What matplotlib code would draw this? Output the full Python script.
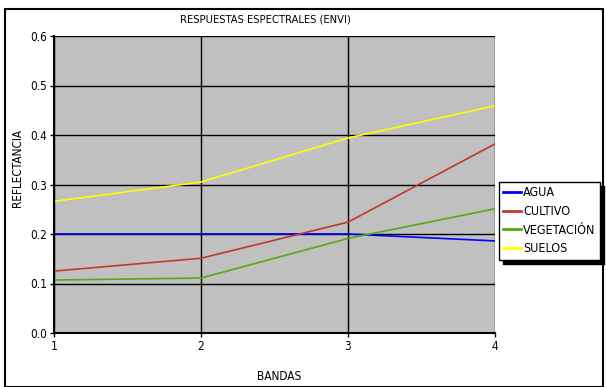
import matplotlib
matplotlib.use("Agg")
import matplotlib.pyplot as plt
from matplotlib.patches import Rectangle

bands = [1, 2, 3, 4]
agua = [0.200, 0.200, 0.200, 0.186]
cultivo = [0.125, 0.151, 0.224, 0.382]
vegetacion = [0.107, 0.111, 0.191, 0.251]
suelos = [0.266, 0.305, 0.394, 0.459]
names = ["AGUA", "CULTIVO", "VEGETACIÓN", "SUELOS"]
colors = ["#0000FF", "#C0392B", "#55AA11", "#FFFF00"]
yticks = [0.0, 0.1, 0.2, 0.3, 0.4, 0.5, 0.6]

plt.rcParams['font.family'] = ['DejaVu Sans']
plt.rcParams['font.stretch'] = 'condensed'
plt.rcParams['font.size'] = 8.5

W, H = 606, 387
fig = plt.figure(figsize=(W/100, H/100), dpi=100)
fig.patch.set_facecolor('white')
fig.patches.append(Rectangle((5/W, 0), (603-5)/W, 1-9/H, transform=fig.transFigure,
                             fill=False, edgecolor='black', linewidth=1.5))

ax = fig.add_axes([54/W, 1-333/H, (495-54)/W, (333-36)/H])
ax.set_facecolor('#C0C0C0')
series = [agua, cultivo, vegetacion, suelos]
for vals, name, c in zip(series, names, colors):
    ax.plot(bands, vals, color=c, linewidth=1.2, label=name)

ax.set_xlim(1, 4)
ax.set_ylim(0, 0.6)
ax.set_xticks(bands)
ax.set_yticks(yticks)
ax.set_yticklabels([f"{v:.1f}" for v in yticks])
ax.grid(True, color='black', linewidth=1)
ax.set_axisbelow(True)
for s in ['top', 'right']:
    ax.spines[s].set_visible(False)
for s in ['left', 'bottom']:
    ax.spines[s].set_linewidth(1.5)
ax.tick_params(direction='out', length=3, width=1, pad=2, labelsize=8.5)
fig.text(265/W, 1-20/H, "RESPUESTAS ESPECTRALES (ENVI)", ha='center', va='center', fontsize=8)
fig.text(279/W, 1-377/H, "BANDAS", ha='center', va='center', fontsize=8.5)
fig.text(18/W, 1-168/H, "REFLECTANCIA", ha='center', va='center', rotation=90, fontsize=8.5)

leg = fig.legend(loc='upper left', bbox_to_anchor=(499/W, 1-182/H), frameon=True,
                 fancybox=False, edgecolor='black', shadow={'color': 'black', 'alpha': 1, 'ox': 3, 'oy': -3},
                 handlelength=1.4, handletextpad=0.2, borderpad=0.35, labelspacing=0.45,
                 borderaxespad=0, fontsize=9)
leg.get_frame().set_linewidth(1)
for l in leg.get_lines():
    l.set_linewidth(2)

fig.savefig("out.png", dpi=100)
